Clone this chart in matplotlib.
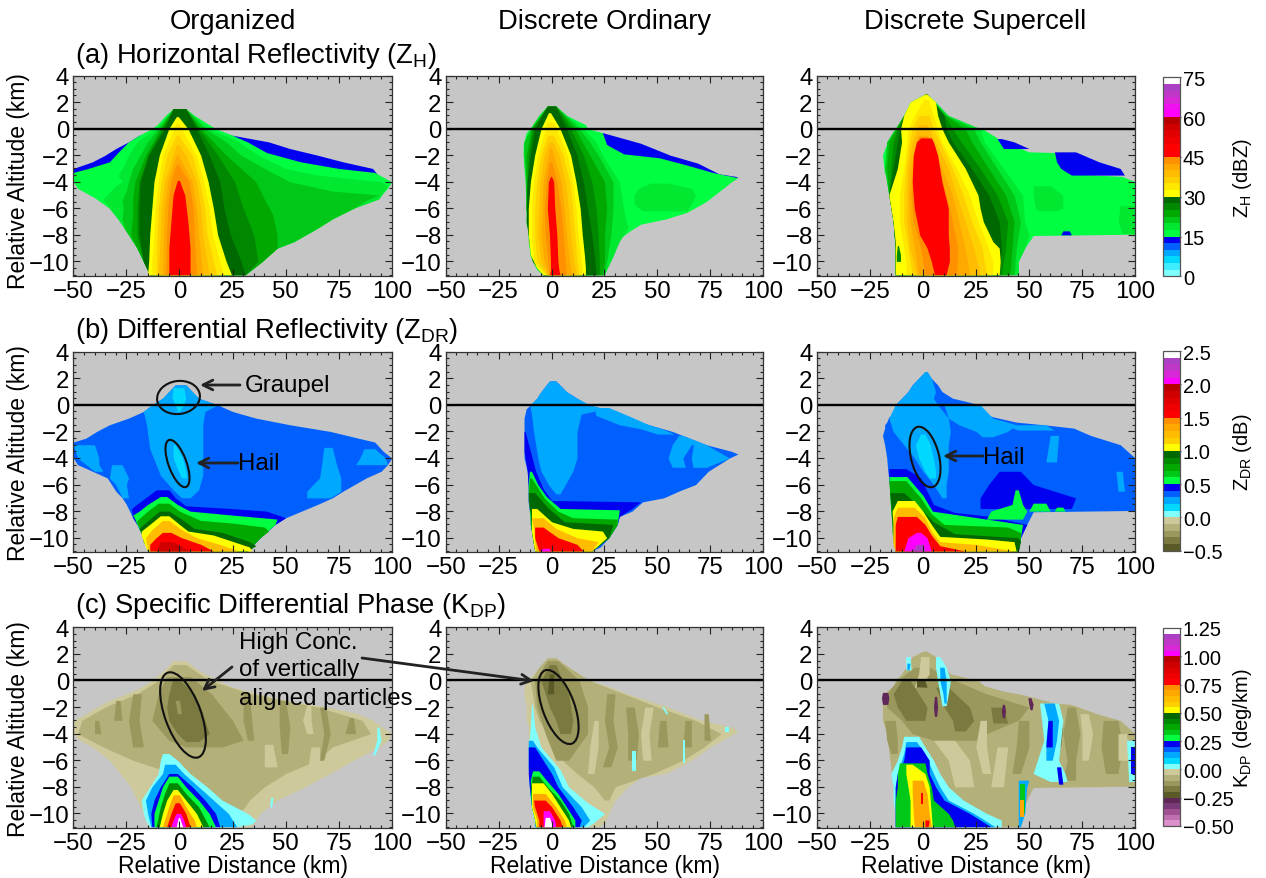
import numpy as np
import matplotlib
matplotlib.use('Agg')
import matplotlib.pyplot as plt
from matplotlib.colors import ListedColormap, BoundaryNorm
from matplotlib.cm import ScalarMappable
from matplotlib.patches import Ellipse

plt.rcParams['font.family'] = ['Liberation Sans', 'DejaVu Sans']
plt.rcParams['mathtext.default'] = 'regular'

######################################
# each band: (value, rows of (altitude km, left km, right km))

zh_org = [
 (13.75, [(-0.5,-19,25),(-1,-24,42),(-1.5,-30,52),(-2,-35,65),(-2.5,-41,77),(-3,-50,91),(-3.4,-50,93)]),
 (16.25, [(1.5,-3,3),(1,-6.5,7),(0.3,-10.5,14),(0,-13,17),(-0.5,-19,25),(-1,-24,32),(-1.8,-29,41),(-2.5,-33,57),(-3,-43,75),(-3.3,-50,92),(-4,-50,100),(-4.5,-48,98),(-5.2,-40,94),(-6,-33,82),(-6.8,-29,72),(-7.5,-26,65),(-8.5,-22,54),(-9,-20,46),(-10,-17,39),(-11,-14,31)]),
 (18.75, [(1.5,-3,3),(1,-6,6.5),(0,-11,14),(-1,-20,28),(-2,-24,37),(-3,-27,50),(-3.5,-29,65),(-4,-27,95),(-4.3,-30,98),(-5.3,-36,94),(-6,-33,82),(-6.8,-29,72),(-7.5,-26,65),(-8.5,-22,54),(-9,-20,46),(-10,-17,39),(-11,-14,31)]),
 (21.25, [(1.5,-3,3),(0,-10,12),(-1,-15,22),(-2,-18.5,29),(-3,-22,40),(-4,-24,52),(-4.7,-25,72),(-5,-26,94),(-5.4,-27,88),(-6,-26.5,82),(-6.8,-27,72),(-7.5,-26,65),(-8.5,-22,54),(-9,-20,46),(-10,-17,39),(-11,-14,31)]),
 (23.75, [(1.5,-3,3),(0,-9,10),(-2,-16,22),(-4,-21,36),(-5.3,-22,40),(-6.5,-22,44),(-8,-23,46),(-9,-20,46),(-10,-17,39),(-11,-14,31)]),
 (26.25, [(1.5,-3,3),(0,-8,9),(-2,-15,18),(-4,-19,26),(-6,-20,30),(-8,-20,35),(-10,-17,37),(-11,-14,31)]),
 (28.75, [(1.5,-3,3),(0,-7,8),(-2,-14.5,14),(-4,-18.5,19),(-6,-19,21),(-8,-19,24),(-10,-17,29),(-11,-14,31)]),
 (31.25, [(0.9,-1.5,-0.5),(0,-5,4),(-2,-9.5,10),(-4,-12,13.5),(-6,-13,16),(-8,-14,18),(-10,-14.5,22),(-11,-15,24.5)]),
 (33.75, [(0.4,-1.5,-0.5),(-2,-8,8),(-4,-10,11.5),(-6,-11.5,14),(-8,-12,15.5),(-10,-13,19),(-11,-13,21)]),
 (36.25, [(-0.5,-1.5,-0.5),(-2,-6,6),(-4,-8.5,9.5),(-6,-10,12),(-8,-10.5,13),(-11,-11,17.5)]),
 (38.75, [(-1.2,-1.5,-0.5),(-2,-3,3),(-4,-7,8),(-6,-8.5,10),(-8,-9,11),(-11,-10,14)]),
 (41.25, [(-2,-1.5,-0.5),(-4,-5.5,6),(-6,-7,8),(-8,-7.5,9),(-11,-8,11)]),
 (43.75, [(-2.7,-1.5,-0.5),(-4,-4,4.5),(-6,-5.5,6.5),(-8,-6,7),(-11,-6.5,8)]),
 (46.25, [(-3.9,-1,0),(-5,-3,2.5),(-7,-4,4),(-9,-5,5),(-11,-5,5)]),
]

zh_ord = [
 (13.75, [(-0.3,23,24),(-1.1,25,42),(-2,33,56),(-2.6,50,69),(-3.4,70,79),(-3.6,85,87),(-3.7,86,88)]),
 (16.25, [(1.7,-2,2),(1,-6,7),(0.3,-9,16),(0,-10,17),(-0.3,-12,24),(-1.2,-13.4,26),(-1.9,-13.4,34),(-2.2,-13,51),(-2.75,-13,64),(-3.3,-12.5,76),(-3.7,-12,88),(-4,-12,85),(-5.5,-12,73),(-6.3,-12,64),(-6.8,-12,54),(-7.2,-12,42),(-7.7,-11,37),(-8.3,-11,32),(-9.6,-10,29),(-10.6,-7,26),(-11,-4,25)]),
 (18.75, [(1.7,-2,2),(1,-6,7),(0,-10,15),(-1,-13,21),(-2,-13.4,24),(-4,-12.5,32),(-6,-12,34),(-7.5,-11,36),(-8.5,-11,32),(-9.6,-10,29),(-10.6,-7,26),(-11,-4,25)]),
 (18.75, [(-4.1,47,55),(-4.5,41,66),(-5,39,68),(-5.7,39,66),(-6.2,43,64)]),
 (21.25, [(1.7,-2,2),(0,-10,13),(-1,-13,18),(-2,-13,22),(-4,-12,29),(-6,-12,29),(-8,-11,28),(-10,-9,26),(-11,-4,25)]),
 (23.75, [(1.7,-2,2),(0,-9.5,11),(-2,-12,18),(-4,-12,25),(-6,-12,26),(-8,-11,25),(-10,-9,25),(-11,-4,24)]),
 (26.25, [(1.7,-2,2),(0,-9,9),(-2,-11,15),(-4,-11.5,19),(-6,-12,21),(-8,-11,22),(-10,-9,22.5),(-11,-4,22.5)]),
 (28.75, [(1.7,-2,2),(0,-8,7),(-2,-10,12),(-4,-11.5,15),(-7,-12,18),(-8,-11,19),(-10,-9,20.5),(-11,-4,21)]),
 (31.25, [(1.2,-1.5,-0.5),(0,-5,4),(-2,-8,9),(-4,-10,11.5),(-6,-11,13.5),(-8,-11,14.5),(-9.5,-10,15.5),(-10.5,-7,16),(-11,-4,16)]),
 (33.75, [(0.5,-2,1),(-2,-6.5,7.5),(-4,-8.5,10),(-6,-9.5,11.5),(-8,-9.5,12.5),(-10,-8.5,14),(-11,-3,14.5)]),
 (36.25, [(-0.5,-2,1),(-2,-5,5.5),(-4,-7,8.5),(-6,-8,10),(-8,-8,11),(-10,-7,12),(-11,-2.5,13)]),
 (38.75, [(-1,-1.5,0.5),(-2,-3.5,3.5),(-4,-5.5,6.5),(-6,-6,8),(-8,-6.5,9),(-10,-5,10.5),(-11,-2,11.5)]),
 (41.25, [(-1.5,-1,0),(-4,-4,4.5),(-6,-4.5,6),(-8,-5,7),(-10,-3.5,8.5),(-11,-1.5,9.5)]),
 (43.75, [(-2.5,-1,0),(-4,-2.5,2.5),(-6,-3.5,4.5),(-8,-3,5.5),(-11,-1,7)]),
 (46.25, [(-3.6,-0.5,0),(-4,-1.5,1),(-6,-2,1.5),(-8,-1,2.5),(-10,-0.5,3),(-10.7,-0.5,3.5),(-11,-1,4)]),
]

zh_sup = [
 (16.25, [(2.6,1,2),(2,-6,6),(1,-9,9),(0.9,-9.5,13),(0.2,-11.5,21),(0,-13,28),(-0.8,-16,36),(-1.75,-18.5,50),(-1.8,-18.5,62),(-2,-19,63),(-3.4,-18,70),(-3.6,-17,94),(-4,-17,100),(-7.95,-13,100),(-8.05,-13,52),(-9,-13,48),(-10,-13,45),(-11,-13,45)]),
 (13.75, [(-0.75,35,37),(-1,36,43),(-1.5,38,50)]),
 (13.75, [(-1.75,62,72),(-2.5,63,83),(-3,65,93),(-3.5,70,95)]),
 (13.75, [(-7.7,66,69),(-8,65,70)]),
 (18.75, [(2.6,1,2),(2,-6,6),(1,-9,12),(0,-13,27),(-1,-17,29),(-3,-18,38),(-5,-16,47),(-7,-14,48),(-8,-13,50),(-9,-13,48),(-10,-13,45),(-11,-13,45)]),
 (18.75, [(-4.3,52,60),(-5,52,66),(-6,53,66),(-6.2,55,62)]),
 (18.75, [(-5.8,93,100),(-7,92,100),(-7.9,94,100)]),
 (21.25, [(2.6,1,2),(1,-9,11),(0,-13,24),(-1,-17,27),(-3,-18,35),(-5,-16,43),(-7,-14,46),(-9,-13,44),(-11,-13,43)]),
 (23.75, [(2.6,1,2),(1,-9,10.5),(0,-12.5,20),(-1,-16,23),(-3,-17,31),(-5,-16,39),(-7,-14,43),(-9,-13,42),(-11,-13,41)]),
 (26.25, [(2.6,1,2),(1,-9,10),(0,-12,14),(-1,-14,18),(-3,-15,27),(-5,-16,35),(-7,-14,40),(-9,-13,39),(-11,-13,37)]),
 (28.75, [(2.6,1,2),(1,-9,10),(0,-11,11),(-1,-12,14),(-3,-14,23),(-5,-16,31),(-7,-14,36),(-9,-13,37),(-11,-13,36)]),
 (31.25, [(2.6,1,2),(2,-6,6),(1,-9,7),(0,-10.5,9),(-1,-10,12),(-3,-12,20),(-4,-14,23),(-5,-16,26),(-6,-15,27),(-7,-14,28.5),(-8.5,-13,33),(-9,-13,36),(-10,-13,36.5),(-11,-13,36)]),
 (33.75, [(2.2,0.5,2.5),(1,-4,5),(0,-7,7),(-1,-7.5,9),(-3,-9,16),(-5,-11,22),(-7,-11,26),(-9,-9,31),(-10,-8,33),(-11,-8,33)]),
 (36.25, [(1,-2,3),(0,-5,5),(-1,-6.5,8),(-3,-8,14),(-5,-9,19),(-7,-9,23),(-9,-7,28),(-11,-5,30)]),
 (38.75, [(0.3,-2,2),(-1,-5,6),(-3,-7,12),(-5,-7.5,16),(-7,-7.5,20),(-9,-6,24),(-11,-3,27)]),
 (41.25, [(-0.5,-2,2),(-1,-3.5,4),(-3,-5.5,9),(-5,-6.5,14),(-7,-6,17),(-9,-4,20),(-11,-2,22)]),
 (43.75, [(-0.6,-2,2.5),(-3,-4.5,7.5),(-5,-5.5,11),(-7,-4.5,14),(-9,-1,16.5),(-11,1,16)]),
 (46.25, [(-0.7,-1,4),(-1,-3,5),(-2,-4.5,7),(-4,-5,9),(-6,-4,12),(-8,-1.5,12),(-9,2,12.5),(-10,4,12.5),(-11,5.5,11)]),
 (26.25, [(-8.8,-12,-11.5),(-9.5,-12.5,-10.5),(-10,-12.5,-10.5)]),
]

zdr_org = [
 (0.35, [(1.5,-2,3),(1,-5,6),(0.5,-8,9),(0,-13,18),(-0.5,-17,25),(-1,-24,36),(-1.5,-33,52),(-2,-39,71),(-2.5,-44,84),(-2.8,-50,92),(-3.5,-50,96),(-4,-50,100),(-4.5,-48,98),(-5,-41,95),(-5.5,-34,88),(-6.5,-30,77),(-7,-27,72),(-7.5,-25,65),(-8.5,-22,50),(-9,-20,45),(-10,-17,38),(-11,-15,32)]),
 (0.25, [(1.5,-2,3),(1,-5,6),(0.5,-8,9),(0,-13,18),(-0.5,-17,12),(-1.5,-15.5,11),(-3.3,-14,11),(-5.3,-9,11),(-6.4,-3,9),(-7,1,5)]),
 (0.25, [(-3,-50,-40),(-4,-48,-38),(-4.5,-44,-38),(-5,-40,-36)]),
 (0.25, [(-4.5,-32,-27),(-5.5,-33,-24),(-6,-30,-25),(-7,-27,-24)]),
 (0.25, [(-3.2,68,72),(-4.5,67,74),(-5.5,66,76),(-6.5,60,76),(-7,60,71)]),
 (0.25, [(-3.3,87,92),(-4,85,97),(-4.5,83,98)]),
 (0.15, [(1.3,-3,2),(0.5,-3.5,3),(0,-2,2),(-0.5,-1,0)]),
 (0.15, [(-3,-3,-2),(-4,-3,1.5),(-5,-0.5,3),(-5.5,1,3.5)]),
 (0.45, [(-6.4,-11,-5),(-7,-16,-2),(-7.6,-21,3),(-7.8,-22.5,24),(-8,-22.5,41),(-8.5,-22,50),(-9,-20,45),(-10,-17,38),(-11,-15,32)]),
 (0.55, [(-6.9,-9,-6),(-7.5,-15,-1),(-8,-19,5),(-8.3,-22,25),(-8.6,-21,46),(-9,-20,45),(-10,-17,38),(-11,-15,32)]),
 (0.75, [(-7.4,-10,-5),(-8,-15,0),(-8.7,-20,10),(-8.9,-20,25),(-9.2,-19,40),(-9.5,-18.5,42),(-10,-17,38),(-11,-15,32)]),
 (0.95, [(-8,-9.5,-5),(-8.6,-14,1),(-9.3,-19,7),(-9.6,-18,20),(-10.3,-17,33),(-10.6,-16,36),(-11,-15,32)]),
 (1.05, [(-8.35,-9,-5),(-9,-14,0),(-9.5,-18,4),(-9.8,-18,16),(-10.7,-16,33),(-11,-15,34)]),
 (1.25, [(-8.7,-8,-5),(-9.4,-13,1),(-10,-16,8),(-10.5,-15.5,19),(-11,-14.5,28)]),
 (1.55, [(-9.6,-8,-4),(-10,-11,1),(-10.5,-14,10),(-11,-14,16)]),
 (1.85, [(-10.3,-9,-3),(-11,-11,5)]),
]

zdr_ord = [
 (0.35, [(1.8,-1,2),(1,-5,7),(0.5,-7,12),(0,-10,17),(-0.3,-12,25),(-1,-13,35),(-1.5,-13,46),(-2,-13,57),(-3,-13,73),(-3.5,-13,85),(-3.7,-13,88),(-4,-13,84),(-5,-11.5,74),(-6,-11,68),(-6.5,-11,60),(-7,-11,53),(-7.3,-11,43),(-8,-10.5,38),(-8.4,-10,32),(-9,-10,31),(-10,-9,27),(-10.7,-8,23),(-11,-8,19)]),
 (0.25, [(1.8,-1,2),(1,-5,7),(0.5,-7,12),(0,-10,18),(-0.3,-10,25),(-0.7,-9.5,14),(-2,-8.5,12),(-4,-6.5,12),(-5,-5,10),(-6,-1.5,6.5),(-6.7,2,4)]),
 (0.25, [(-0.2,20,27),(-0.8,21,36),(-1.5,32,46),(-1.8,42,52),(-2.2,50,58)]),
 (0.25, [(-2.3,60,62),(-3,57,73),(-4,55,84),(-4.7,57,73)]),
 (0.35, [(-3,66,67),(-4,62,66),(-5.8,65,68)]),
 (0.45, [(-2,-13,-12.5),(-3.5,-13,-10),(-5,-11.5,-7.5),(-6.3,-11,-4),(-7.2,-11,0),(-7.3,-11,42),(-7.8,-10.5,38),(-8.4,-10,32),(-9,-10,31),(-10,-9,27),(-11,-8,19)]),
 (0.55, [(-5,-10.5,-9.5),(-6,-11,-6.5),(-6.9,-11,-2.5),(-7.8,-10.5,4),(-7.9,-10.5,32),(-9,-10,31),(-10,-9,27),(-11,-8,19)]),
 (0.75, [(-5.5,-10.5,-9.5),(-7,-11,-3.5),(-8,-10,3),(-8.5,-10,10),(-8.6,-10,31),(-9,-10,31),(-10,-9,27),(-11,-8,19)]),
 (0.95, [(-6.6,-11,-8),(-7.7,-10.5,-2),(-8.8,-9.5,6),(-9,-9.5,29),(-10,-9,27),(-11,-8,19)]),
 (1.05, [(-7.8,-9.5,-7),(-8.8,-9.5,0),(-9.3,-9.5,10),(-9.5,-9.5,24),(-10,-9,26),(-11,-8,19)]),
 (1.25, [(-8.5,-9.5,-4),(-9.3,-8.5,2),(-10,-8,12),(-10.3,-8,22),(-11,-7.5,19)]),
 (1.55, [(-9.2,-8,-4),(-10,-8,3),(-10.5,-7,12),(-11,-6,15)]),
 (2.05, [(-10.8,-4.5,-1),(-11,-5,-0.5)]),
]

zdr_sup = [
 (0.35, [(2.5,1,2),(2,-2,4),(1.5,-5,7),(1,-7,9),(0.5,-10,14),(0,-13,27),(-0.7,-13,29),(-0.9,-16,33),(-1.3,-17,44),(-1.5,-18,57),(-1.75,-18,71),(-2.3,-19,79),(-3,-18,93),(-4,-17,100),(-5,-16.5,100),(-7.95,-14,100),(-8.05,-14,52),(-9,-13.5,49),(-10,-13,46),(-11,-13,45)]),
 (0.25, [(2.5,1,2),(2,-2,4),(1.5,-5,5),(1,-7,6),(0.5,-10,5),(0,-13,7),(-1,-16,12),(-2,-14,13),(-3,-9,12),(-4,-4,12),(-5,0,12),(-6,5,11),(-7,9,11)]),
 (0.25, [(0,10,27),(-1,12,33),(-1.5,17,44),(-2,25,40),(-2.4,28,33)]),
 (0.25, [(-1.5,38,58),(-1.9,45,62)]),
 (0.25, [(-2.3,60,64),(-4.3,58,63)]),
 (0.25, [(-5,91,94),(-6.5,92,95)]),
 (0.15, [(-2.2,-1,1),(-3,-3.5,3.5),(-4,-2,5),(-5,1,6),(-5.5,3,6)]),
 (0.45, [(-4.8,-16,-8),(-5.5,-16,-1),(-6.5,-15.5,2),(-7.5,-15,5),(-8.1,-14.5,15),(-8.4,-14.5,32),(-9,-13.5,49),(-10,-13,46),(-11,-13,45)]),
 (0.45, [(-5,36,46),(-6,31,52),(-7,27,72),(-7.8,27,70)]),
 (0.55, [(-5.4,-16,-7.5),(-6.8,-15.5,0),(-8,-15,4.5),(-8.6,-14.5,30),(-9,-14.5,47),(-10,-14,46),(-11,-13,45)]),
 (0.55, [(-6.4,43.5,45),(-7.5,42,47),(-8,32,49),(-8.6,30,47)]),
 (0.55, [(-7.4,52,58),(-8,50,60)]),
 (0.55, [(-7.7,63,66),(-8,62,67)]),
 (0.75, [(-5.7,-16,-8),(-7,-15.5,-1),(-8.2,-15,4),(-9,-14.5,10),(-9.2,-14.5,40),(-9.6,-14.5,46),(-10,-14,46),(-11,-13,45)]),
 (0.95, [(-6.6,-15.5,-9),(-7.5,-15,-3),(-8.8,-14.5,5),(-9.7,-14,15),(-10,-14,45),(-10.3,-14,46),(-11,-13,45)]),
 (1.05, [(-7.2,-12,-4),(-8,-14.5,0),(-9,-14,4),(-9.9,-14,8),(-10.1,-14,30),(-10.3,-14,43),(-11,-13,44)]),
 (1.25, [(-7.7,-12,-4),(-8.5,-14,1),(-9.5,-14,4),(-10.3,-14,8),(-10.5,-14,25),(-11,-13,43)]),
 (1.55, [(-8.4,-12,-3),(-9,-13,1),(-9.8,-13,4),(-10.6,-13,8),(-11,-13,20)]),
 (2.05, [(-9.6,-3,-1),(-10,-7,2),(-10.5,-8,3),(-11,-9,4)]),
 (2.35, [(-10.5,-3,0),(-11,-5,1)]),
]

kdp_org = [
 (-0.025, [(1.5,-3,3),(1,-6,7),(0.5,-9,12),(0,-13,18),(-0.5,-18,25),(-1,-25,37),(-1.5,-33,50),(-2,-39,70),(-2.5,-44,84),(-3,-50,91),(-4,-50,100),(-4.5,-47,98),(-5,-41,94),(-6,-33,82),(-7,-28,71),(-8,-23,59),(-9,-20,46),(-10,-17,38),(-11,-15,34)]),
 (-0.075, [(1.2,-3,3),(0,-10,14),(-1,-20,34),(-2,-35,65),(-3,-46,86),(-4,-48,90),(-5,-36,72),(-6,-22,65),(-7,-3,50),(-8,8,40),(-9,18,33),(-9.7,25,30)]),
 (-0.025, [(-1.8,60,62),(-3,58,62),(-4,60,63)]),
 (-0.025, [(-5,62,66),(-7,60,66)]),
 (-0.025, [(-4.8,40,44),(-6.5,40,46)]),
 (-0.125, [(0.3,-6,5),(-1,-10,15),(-3,-13,25),(-4.5,-5,30),(-5,3,20)]),
 (-0.125, [(-1.5,-30,-28),(-3,-31,-27)]),
 (-0.125, [(-3,-40,-38),(-4,-40,-37)]),
 (-0.125, [(-1,-22,-18),(-3,-24,-19),(-5,-22,-17)]),
 (-0.125, [(-1,30,33),(-3,30,34),(-4.5,32,35)]),
 (-0.125, [(-1.5,47,50),(-3.5,47,52),(-5.5,48,51)]),
 (-0.125, [(-2,66,69),(-4,68,71),(-6,66,68)]),
 (-0.125, [(-2.8,80,82),(-4,78,83)]),
 (-0.175, [(0.2,-3,-1),(-1,-5,7),(-2,-6,10),(-3,-5,12),(-4,-1,14),(-4.6,3,9)]),
 (-0.125, [(-1.5,-2,0),(-2.5,-1,1)]),
 (0.025, [(-5.5,-8,-5),(-6,-9,-1),(-7,-10,5),(-8,-14,13),(-9,-18,20),(-10,-17,32),(-10.5,-16,36),(-10.8,-15,34),(-11,-14,27)]),
 (0.025, [(-3.5,93,94),(-4.5,93,95),(-5.6,91,92)]),
 (0.025, [(-8.8,43,44),(-9.5,42.5,43.5)]),
 (0.125, [(-6.3,-7,-2),(-7,-8,2),(-8,-13,9),(-9,-16,16),(-10,-15,23),(-11,-13.5,27)]),
 (0.225, [(-7,-5,-1),(-8,-9,6),(-9,-12,12),(-10,-13.5,17),(-11,-13,19)]),
 (0.275, [(-7.2,-5,-1),(-8,-8,3),(-9,-10,9),(-10,-12,14),(-11,-12,17)]),
 (0.425, [(-7.7,-5,-1),(-8.5,-7,3),(-9.5,-9,9),(-11,-11,14)]),
 (0.525, [(-8.2,-3,-1),(-9,-6,3),(-10,-8,8),(-11,-9.5,11)]),
 (0.675, [(-8.6,-3,0),(-9.5,-5,3),(-10.5,-7,7),(-11,-8,8)]),
 (0.775, [(-9.2,-2,0),(-10,-4,3),(-11,-6,5)]),
 (1.025, [(-10,-1.5,0.5),(-10.5,-3,2),(-11,-4,3)]),
 (1.225, [(-10.3,-0.5,0),(-11,-1.5,1.5)]),
]

kdp_ord = [
 (-0.025, [(1.7,-2,2),(1,-6,8),(0,-11,18),(-0.4,-13,26),(-1,-13,36),(-2,-12,55),(-3,-12,71),(-3.5,-11,85),(-3.8,-11,88),(-4.2,-11,84),(-5,-11,75),(-6,-11,66),(-7,-11,54),(-7.3,-10.5,42),(-8,-10.5,36),(-9,-10,30),(-10,-9,27),(-10.7,-8,25),(-11,-8,22)]),
 (-0.075, [(1.7,-2,2),(1,-6,8),(0,-10,18),(-1,-9,34),(-2,-8,50),(-3,-6,68),(-4,-2,80),(-5,2,72),(-6,5,62),(-7,12,48),(-8,20,30),(-9,25,27)]),
 (-0.025, [(-3,20,22),(-5,18,22),(-7,17,20)]),
 (-0.025, [(-2,44,48),(-4,42,46),(-6,43,47)]),
 (-0.125, [(1.5,-2,3),(0,-8,13),(-2,-7,17),(-4,-3,17),(-6,2,8)]),
 (-0.125, [(-1,26,30),(-3,25,29),(-5,27,31),(-6.5,24,28)]),
 (-0.125, [(-2,35,39),(-4,36,41),(-6,36,40)]),
 (-0.125, [(-3,51,54),(-5,50,55)]),
 (-0.125, [(-3,63,66),(-5,62,66)]),
 (-0.125, [(-2.5,72,74),(-4.5,72,75)]),
 (-0.175, [(1.2,-1,2),(0,-5,5),(-1,-3,8),(-2,-1,9),(-3,2,10),(-4,4,9)]),
 (-0.225, [(0.5,-1,1),(-1,-2,1)]),
 (0.025, [(-2,52,53),(-2.5,54,55)]),
 (0.025, [(-5.3,38,40),(-6.8,38,40)]),
 (0.025, [(-4.5,62,63),(-6.2,62,63)]),
 (0.025, [(-3.5,82,84),(-3.9,82,84)]),
 (0.025, [(-1.8,-9.5,-9),(-3.5,-10,-8),(-5,-11,-5),(-6.7,-11,4),(-8,-10.5,8),(-9.2,-10,17),(-10,-9,25),(-10.7,-8,20),(-11,-8,17)]),
 (0.125, [(-4.5,-11,-9),(-5,-11,-7),(-6.5,-11,1),(-8,-10.5,5),(-9.5,-9.5,14),(-10.5,-8,18),(-11,-8,15)]),
 (0.225, [(-5,-11,-8),(-6,-11,-4),(-7,-11,0),(-8,-10.5,3),(-9.5,-9.5,10),(-10.5,-8,14),(-11,-7.5,13)]),
 (0.275, [(-6.8,-9,-6),(-7.5,-10,-2.5),(-8.5,-10,3),(-9.5,-9.5,7),(-10.5,-8,11),(-11,-7.5,11)]),
 (0.425, [(-7.2,-9,-6),(-8,-10,-2),(-9,-9.5,4),(-10,-8.5,8),(-11,-7.5,10)]),
 (0.525, [(-7.7,-9.5,-4),(-8.5,-9.5,0),(-9.5,-9.5,4),(-10.5,-8,8),(-11,-7.5,9)]),
 (0.675, [(-8.5,-9,-3),(-9.5,-9,2),(-10.5,-7,6),(-11,-7,7)]),
 (0.775, [(-9,-8.5,-3),(-9.5,-8,0),(-10.5,-6,4),(-11,-6,5)]),
 (1.025, [(-9.8,-4,-1),(-10.5,-4,1.5),(-11,-4,2)]),
 (1.225, [(-10.3,-3,-1),(-11,-3.5,0.5)]),
]

kdp_sup = [
 (-0.075, [(2.2,0,2),(1.8,-5,6),(1,-8,10),(0.5,-10,13),(0,-13,26),(-0.4,-14,29),(-0.8,-17,38),(-1.1,-19,48),(-1.7,-19,62),(-1.8,-19,70),(-2.5,-19,82),(-3,-19,93),(-4,-17,100),(-7.95,-14,100),(-8.05,-14,52),(-9,-13,49),(-10,-13,46),(-11,-13,45)]),
 (-0.125, [(1,-4,3),(0,-12,15),(-1,-17,30),(-2,-17,50),(-3,-10,45),(-4,-5,30),(-4.5,5,25)]),
 (-0.125, [(-2,68,72),(-4,66,74),(-6,68,72),(-7.5,66,72)]),
 (-0.125, [(-3,85,92),(-5,84,94),(-7,86,92)]),
 (-0.125, [(-3,45,50),(-5,44,50),(-7,42,46)]),
 (-0.125, [(-3,-18,-13),(-4.5,-17,-12),(-5.5,-15,-12)]),
 (-0.025, [(1.8,-1,3),(0.5,-2,3),(-0.5,-4,-1)]),
 (-0.025, [(-3,27,30),(-5,25,30),(-7,28,32)]),
 (-0.025, [(-4.5,5,15),(-6,12,22),(-8,15,24)]),
 (-0.025, [(-2.5,74,78),(-4,75,80),(-6,75,78)]),
 (-0.025, [(-4,92,96),(-6,92,97)]),
 (-0.025, [(-5,35,40),(-8,32,38)]),
 (-0.175, [(0,-10,-6),(-1,-14,-2),(-2,-12,2),(-3,-8,1)]),
 (-0.175, [(-0.5,6,12),(-2,10,22),(-3,14,24),(-3.8,15,20)]),
 (-0.175, [(-2,32,38),(-3.2,33,40)]),
 (-0.175, [(-3.5,62,66),(-5,62,65)]),
 (-0.225, [(0,-3,1),(-0.5,-3,2)]),
 (-0.275, [(-0.9,-19,-16.5),(-1.3,-19.5,-16),(-1.8,-19,-16.5)]),
 (-0.275, [(-1.2,5.5,6.5),(-2,5,7),(-2.7,5.5,6.5)]),
 (-0.275, [(-1.8,37.5,38.5),(-2.3,37,39),(-2.8,37.5,38.5)]),
 (-0.275, [(-1.3,49.5,51),(-1.8,50,52),(-2.2,50.5,51.5)]),
 (0.025, [(1.8,-8,-6),(0.8,-8,-5.5)]),
 (0.025, [(1.8,6,8),(1,6,11),(0,7,13),(-1,8,12),(-1.9,9,11)]),
 (0.125, [(1.3,-7.5,-6),(0.8,-7.5,-6.5)]),
 (0.125, [(1,8,10),(0,8,11),(-1,9.5,11),(-1.7,10,11)]),
 (0.025, [(-1.7,55,64),(-3,56,66),(-4.5,57,65),(-6,54,64),(-7,52,67),(-7.6,60,68)]),
 (0.125, [(-1.7,57,62),(-3,59,64),(-4.5,58,63),(-6,58,61)]),
 (0.225, [(-3,59,61),(-5,58,61)]),
 (0.225, [(-6.5,63,65),(-7.8,64,66)]),
 (0.025, [(-4.5,96,100),(-7.6,97,100)]),
 (0.225, [(-5,98,100),(-7,98,100)]),
 (0.025, [(-4.2,-9,-2),(-5,-10,1),(-6,-12,5),(-7,-15,8),(-8,-14,12),(-9,-14,19),(-10,-13,30),(-10.5,-13,37),(-11,-13,37)]),
 (0.125, [(-4.6,-8,-3),(-5.5,-9,1),(-7,-12,5),(-8,-13,8),(-9,-13,12),(-10,-13,24),(-11,-13,34)]),
 (0.225, [(-5,-8,-1),(-6,-9,3),(-7,-12,3),(-8,-13,6),(-9,-13,10),(-10,-13,22),(-11,-13,32)]),
 (0.325, [(-6.2,-11,1),(-7,-12,2),(-8,-12,4),(-9,-13,5),(-10,-13,12),(-10.5,-13,14),(-11,-13,15)]),
 (0.525, [(-6.3,-8,-5),(-7,-8,1),(-8,-7,3),(-9,-6,3.5),(-10,-6,4),(-11,-6,4.5)]),
 (0.675, [(-7.5,-5,0),(-8.5,-5,2),(-10,-4.5,3),(-11,-4,4)]),
 (0.775, [(-8.5,-1,0),(-9.3,-1,0)]),
 (0.775, [(-10.5,1,3),(-11,1,2.5)]),
 (0.125, [(-7.5,45,50),(-8,45,49),(-10,45,48),(-11,45,46)]),
 (0.325, [(-7.8,46,48),(-10,46,48)]),
 (0.675, [(-9,46,47.5),(-10.3,46,47.5)]),
]

zh_ticks = [0, 15, 30, 45, 60, 75]
zdr_ticks = [-0.5, 0.0, 0.5, 1.0, 1.5, 2.0, 2.5]
kdp_ticks = [-0.50, -0.25, 0.00, 0.25, 0.50, 0.75, 1.00, 1.25]

column_names = ['Organized', 'Discrete Ordinary', 'Discrete Supercell']

######################################
# colour table, pale to dark inside each group

cyan = ['#80FFFF', '#40ECFF', '#00D8FF', '#00A8FF', '#0060FF', '#0000F0']
green = ['#00FF40', '#00E830', '#00C818', '#00A800', '#008800', '#006800']
yellow = ['#FFFF00', '#FFE800', '#FFD000', '#FFBC00', '#FFA800', '#FF9000']
red = ['#FF0000', '#FF0000', '#F00000', '#E00000', '#D00000', '#B80000']
magenta = ['#FF00FF', '#F010F0', '#D828D8', '#C038C8', '#AC40C4', '#FFFFFF']
khaki = ['#5A5A28', '#7A7A40', '#9A985C', '#B4B07A', '#CDC99B']
pink = ['#DC90CC', '#C070B0', '#A05090', '#7A3A78', '#602858']

def five (group):
    return group[0:1] + group[2:]

zh_cmap = ListedColormap (cyan + green + yellow + red + magenta)
zdr_cmap = ListedColormap (khaki + five(cyan) + five(green) + five(yellow) + five(red) + five(magenta))
kdp_cmap = ListedColormap (pink + khaki + five(cyan) + five(green) + five(yellow) + five(red) + five(magenta))

zh_norm = BoundaryNorm (np.arange(0, 75.1, 2.5), zh_cmap.N)
zdr_norm = BoundaryNorm (np.arange(-0.5, 2.51, 0.1), zdr_cmap.N)
kdp_norm = BoundaryNorm (np.arange(-0.5, 1.251, 0.05), kdp_cmap.N)

######################################

W, H = 1266, 879
fig = plt.figure ('radar', figsize=(W/100, H/100), dpi=100)

def pixaxes (x0, y0, x1, y1):
    return fig.add_axes ([x0/W, 1-y1/H, (x1-x0)/W, (y1-y0)/H])

def panel (ax, bands, cmap, norm):
    ax.set_facecolor ('#C6C6C6')
    for level, rows in bands:
        rows = np.array (rows)
        ax.fill_betweenx (rows[:,0], rows[:,1], rows[:,2], color=cmap(norm(level)), lw=0)
    ax.axhline (0, c='k', lw=1.7)
    ax.set_xlim (-50, 100)
    ax.set_ylim (-11.1, 4)
    ax.set_xticks (np.arange(-50, 101, 25))
    ax.set_xticks (np.arange(-50, 101, 5), minor=True)
    ax.set_yticks (np.arange(-10, 5, 2))
    ax.set_yticks (np.arange(-11, 4.1, 0.5), minor=True)
    ax.tick_params (which='both', direction='in', top=True, right=True, color='#222222', width=0.8)
    ax.tick_params (which='major', length=5, labelsize=17.3, pad=3)
    ax.tick_params (which='minor', length=2.5)
    for sp in ax.spines.values():
        sp.set_color ('#333333')
        sp.set_linewidth (0.9)

col_x = [(73.3, 391.7), (445.7, 763.3), (816.7, 1135)]
row_y = [(76.5, 277), (352.7, 553.3), (628.3, 829)]
grid = [[zh_org, zh_ord, zh_sup], [zdr_org, zdr_ord, zdr_sup], [kdp_org, kdp_ord, kdp_sup]]
cmaps = [zh_cmap, zdr_cmap, kdp_cmap]
norms = [zh_norm, zdr_norm, kdp_norm]

for i in range(3):
    for j in range(3):
        ax = pixaxes (col_x[j][0], row_y[i][0], col_x[j][1], row_y[i][1])
        panel (ax, grid[i][j], cmaps[i], norms[i])
        if j == 0:
            ax.set_ylabel ('Relative Altitude (km)', fontsize=16.5)
            ax.yaxis.set_label_coords (-0.137, 0.48 if i == 0 else 0.5)
        if i == 2:
            ax.set_xlabel ('Relative Distance (km)', fontsize=16.5)
            ax.xaxis.set_label_coords (0.5, -0.13)

# colour bars
bar_y = [(78.3, 277.3), (352, 551.7), (629, 827)]
bar_ticks = [zh_ticks, zdr_ticks, kdp_ticks]
bar_fmt = ['%d', '%.1f', '%.2f']
bar_names = ['Z$_{H}$ (dBZ)', 'Z$_{DR}$ (dB)', 'K$_{DP}$ (deg/km)']
for i in range(3):
    cax = pixaxes (1163.3, bar_y[i][0], 1180, bar_y[i][1])
    cb = fig.colorbar (ScalarMappable(norm=norms[i], cmap=cmaps[i]), cax=cax, ticks=bar_ticks[i], format=bar_fmt[i], spacing='proportional')
    cb.ax.minorticks_off ()
    cb.ax.tick_params (labelsize=14.5, length=1, width=0.8, pad=1, color='#333333')
    cb.ax.yaxis.set_major_formatter (plt.FuncFormatter(lambda v, p, f=bar_fmt[i]: (f % v).replace('-', '\u2212')))
    cb.outline.set_edgecolor ('#555555')
    cb.outline.set_linewidth (0.9)
    fig.text (1243/W, 1-(bar_y[i][0]+bar_y[i][1])/2/H, bar_names[i], rotation=90, fontsize=14.5, ha='center', va='center')

# annotations, in picture pixels
ov = fig.add_axes ([0, 0, 1, 1])
ov.set_xlim (0, W)
ov.set_ylim (H, 0)
ov.axis ('off')
ov.patch.set_alpha (0)

for name, x in zip (column_names, [233, 605, 975]):
    ov.text (x, 22, name, fontsize=19.7, ha='center', va='center')
ov.text (75, 56, '(a) Horizontal Reflectivity (Z$_{H}$)', fontsize=19.7, va='center')
ov.text (75, 331, '(b) Differential Reflectivity (Z$_{DR}$)', fontsize=19.7, va='center')
ov.text (75, 606, '(c) Specific Differential Phase (K$_{DP}$)', fontsize=19.7, va='center')

def oval (x, y, w, h, tilt):
    ov.add_patch (Ellipse ((x, y), w, h, angle=-tilt, fill=False, ec='#111111', lw=1.5))

def arrow (x0, y0, x1, y1):
    ov.annotate ('', xy=(x1, y1), xytext=(x0, y0),
                 arrowprops=dict(arrowstyle='->,head_length=0.7,head_width=0.35', color='#222222', lw=2, shrinkA=0, shrinkB=0))

oval (178.5, 398.5, 43, 33, 8)
oval (177.5, 464.5, 18, 50, 20)
oval (925, 458, 28, 62, 14)
oval (183, 716, 36, 90, 20)
oval (558.5, 708, 32, 78, 20)

arrow (240, 386, 200, 386)
arrow (238, 464, 196, 464)
arrow (983, 457, 943, 457)
arrow (232, 668, 202, 692)
arrow (362, 659, 534, 682)

ov.text (245, 386, 'Graupel', fontsize=17.3, va='center')
ov.text (238, 464, 'Hail', fontsize=17.3, va='center')
ov.text (983, 458, 'Hail', fontsize=17.3, va='center')
ov.text (239, 643, 'High Conc.', fontsize=17.3, va='center')
ov.text (239, 670, 'of vertically', fontsize=17.3, va='center')
ov.text (239, 699, 'aligned particles', fontsize=17.3, va='center')

fig.savefig ('out.png', dpi=100)
